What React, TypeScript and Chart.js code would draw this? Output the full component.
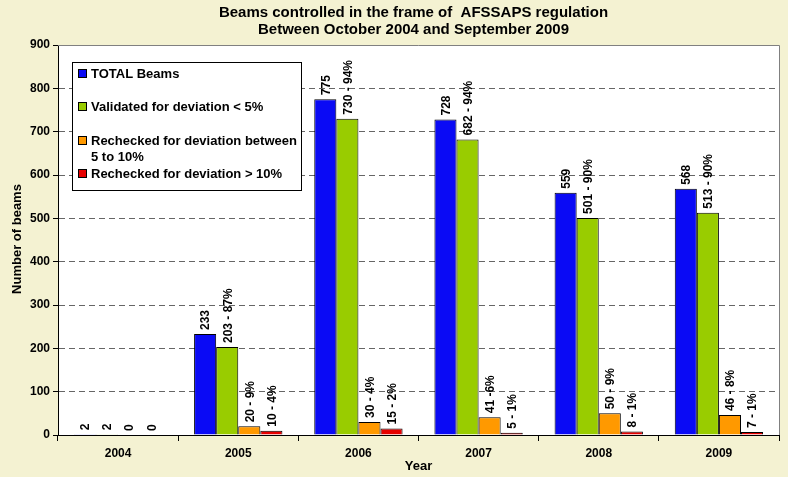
import React, { useEffect, useRef } from 'react';
import { Chart, registerables } from 'chart.js';
Chart.register(...registerables);

const FONT = '"Liberation Sans", Arial, sans-serif';

const categories = ['2004', '2005', '2006', '2007', '2008', '2009'];
const totalBeams = [2, 233, 775, 728, 559, 568];
const validated = [2, 203, 730, 682, 501, 513];
const recheck5to10 = [0, 20, 30, 41, 50, 46];
const recheckOver10 = [0, 10, 15, 5, 8, 7];

const totalLabels = ['2', '233', '775', '728', '559', '568'];
const validatedLabels = ['2', '203 - 87%', '730 - 94%', '682 - 94%', '501 - 90%', '513 - 90%'];
const recheck5to10Labels = ['0', '20 - 9%', '30 - 4%', '41 -6%', '50 - 9%', '46 - 8%'];
const recheckOver10Labels = ['0', '10 - 4%', '15 - 2%', '5 - 1%', '8 - 1%', '7 - 1%'];

const seriesNames = ['TOTAL Beams', 'Validated for deviation < 5%', 'Rechecked for deviation between\n5 to 10%', 'Rechecked for deviation > 10%'];
const seriesColors = ['#0A0AF5', '#99CC00', '#FF9900', '#E60000'];
const titleLines = ['Beams controlled in the frame of  AFSSAPS regulation', 'Between October 2004 and September 2009'];
const yTicks = { min: 0, max: 900, step: 100 };

const allLabels = [totalLabels, validatedLabels, recheck5to10Labels, recheckOver10Labels];

const decorPlugin = {
  id: 'decor',
  beforeDraw(chart: any) {
    const { ctx, chartArea: a } = chart;
    ctx.save();
    ctx.fillStyle = '#F4F2D2';
    ctx.fillRect(0, 0, chart.width, chart.height);
    ctx.fillStyle = '#FFFFFF';
    ctx.fillRect(a.left, a.top, a.right - a.left, a.bottom - a.top);
    ctx.restore();
  },
  afterDraw(chart: any) {
    const { ctx, chartArea: a } = chart;
    ctx.save();
    ctx.strokeStyle = '#808080';
    ctx.lineWidth = 1;
    ctx.beginPath();
    ctx.moveTo(a.left, Math.round(a.top) + 0.5);
    ctx.lineTo(Math.round(a.right) + 0.5, Math.round(a.top) + 0.5);
    ctx.lineTo(Math.round(a.right) + 0.5, a.bottom);
    ctx.stroke();

    ctx.fillStyle = '#000';
    ctx.font = `bold 15px ${FONT}`;
    ctx.textAlign = 'center';
    ctx.textBaseline = 'middle';
    const cx = (a.left + a.right) / 2 - 5;
    ctx.fillText(titleLines[0], cx, 13);
    ctx.fillText(titleLines[1], cx, 30);

    ctx.font = `bold 13px ${FONT}`;
    ctx.fillText('Year', (a.left + a.right) / 2, 466);
    ctx.save();
    ctx.translate(17, 239);
    ctx.rotate(-Math.PI / 2);
    ctx.fillText('Number of beams', 0, 0);
    ctx.restore();

    const lx = 72.5, ly = 62.5, lw = 229, lh = 128;
    ctx.fillStyle = '#FFFFFF';
    ctx.fillRect(lx, ly, lw, lh);
    ctx.strokeStyle = '#000';
    ctx.strokeRect(lx, ly, lw, lh);
    ctx.font = `bold 13px ${FONT}`;
    ctx.textAlign = 'left';
    const ys = [74, 107, 141, 174];
    seriesNames.forEach((name, i) => {
      const y = ys[i];
      ctx.fillStyle = seriesColors[i];
      ctx.fillRect(78.5, y - 4.5, 8, 8);
      ctx.strokeStyle = '#000';
      ctx.strokeRect(78.5, y - 4.5, 8, 8);
      ctx.fillStyle = '#000';
      name.split('\n').forEach((ln, j) => ctx.fillText(ln, 91, y + j * 16));
    });
    ctx.restore();
  },
};

const labelPlugin = {
  id: 'barLabels',
  afterDatasetsDraw(chart: any) {
    const { ctx } = chart;
    ctx.save();
    ctx.fillStyle = '#000';
    ctx.font = `bold 12px ${FONT}`;
    ctx.textAlign = 'left';
    ctx.textBaseline = 'middle';
    chart.data.datasets.forEach((ds: any, di: number) => {
      const meta = chart.getDatasetMeta(di);
      meta.data.forEach((bar: any, i: number) => {
        ctx.save();
        ctx.translate(bar.x + 1, bar.y - 4);
        ctx.rotate(-Math.PI / 2);
        ctx.fillText(allLabels[di][i], 0, 0);
        ctx.restore();
      });
    });
    ctx.restore();
  },
};

export default function App() {
  const ref = useRef<HTMLCanvasElement>(null);
  useEffect(() => {
    document.body.style.margin = '0';
    const data = [totalBeams, validated, recheck5to10, recheckOver10];
    const chart = new Chart(ref.current!, {
      type: 'bar',
      data: {
        labels: categories,
        datasets: data.map((d, i) => ({
          label: seriesNames[i],
          data: d,
          backgroundColor: seriesColors[i],
          borderColor: '#000',
          borderWidth: 1,
          categoryPercentage: 0.735,
          barPercentage: 1,
        })),
      },
      options: {
        responsive: false,
        animation: false,
        layout: { padding: { top: 45, right: 9, left: 0, bottom: 0 } },
        plugins: { legend: { display: false }, tooltip: { enabled: false }, title: { display: false } },
        scales: {
          x: {
            afterFit: (s: any) => { s.height = 42; },
            grid: { drawOnChartArea: false, tickLength: 6, color: '#000', offset: true },
            border: { color: '#000', width: 1 },
            ticks: { color: '#000', font: { family: FONT, size: 12, weight: 'bold' }, padding: 5 },
          },
          y: {
            min: yTicks.min,
            max: yTicks.max,
            afterFit: (s: any) => { s.width = 58; },
            ticks: { stepSize: yTicks.step, color: '#000', font: { family: FONT, size: 12, weight: 'bold' }, padding: 3 },
            grid: { color: '#666666', tickColor: '#000', tickLength: 5, tickBorderDash: [] },
            border: { color: '#000', width: 1, dash: [6, 4] },
          },
        },
      },
      plugins: [decorPlugin, labelPlugin],
    } as any);
    return () => chart.destroy();
  }, []);
  return (
    <div style={{ position: 'fixed', left: 0, top: 0 }}>
      <canvas ref={ref} width={788} height={477} style={{ display: 'block' }} />
    </div>
  );
}
